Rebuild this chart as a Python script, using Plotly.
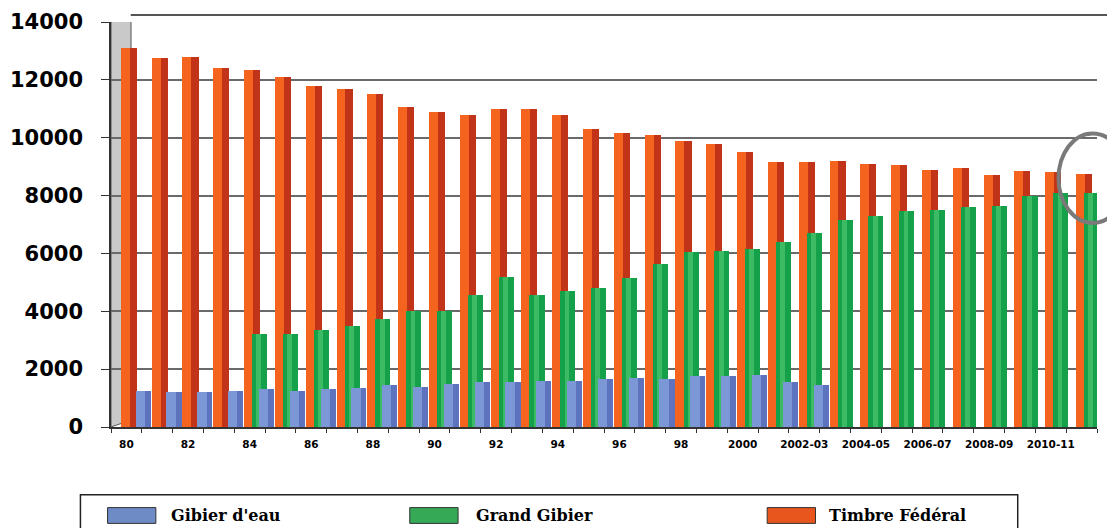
import plotly.graph_objects as go

categories = ["80", "81", "82", "83", "84", "85", "86", "87", "88", "89",
              "90", "91", "92", "93", "94", "95", "96", "97", "98", "99",
              "2000", "2001-02", "2002-03", "2003-04", "2004-05", "2005-06",
              "2006-07", "2007-08", "2008-09", "2009-10", "2010-11", "2011-12"]

timbre_federal = [13100, 12750, 12800, 12400, 12350, 12100, 11800, 11700, 11500, 11050,
                  10900, 10800, 11000, 11000, 10800, 10300, 10150, 10100, 9900, 9800,
                  9500, 9150, 9150, 9200, 9100, 9050, 8900, 8950, 8700, 8850, 8800, 8750]

grand_gibier = [None, None, None, None, 3200, 3200, 3350, 3500, 3750, 4000,
                4000, 4550, 5200, 4550, 4700, 4800, 5150, 5650, 6050, 6100,
                6150, 6400, 6700, 7150, 7300, 7450, 7500, 7600, 7650, 8000, 8100, 8100]

gibier_eau = [1250, 1200, 1200, 1250, 1300, 1250, 1300, 1350, 1450, 1400,
              1500, 1550, 1550, 1600, 1600, 1650, 1700, 1650, 1750, 1750,
              1800, 1550, 1450, None, None, None, None, None, None, None, None, None]

y_ticks = [0, 2000, 4000, 6000, 8000, 10000, 12000, 14000]
y_tick_text = ["0", "2000", "4000", "6000", "8000", "10000", "12000", "14000"]

series_names = ["Gibier d'eau", "Grand Gibier", "Timbre Fédéral"]
legend_colors = {"Gibier d'eau": "#6E8BC6", "Grand Gibier": "#36A957", "Timbre Fédéral": "#E8561E"}

xs = list(range(len(categories)))
tick_idx = xs[::2]
tick_txt = [categories[i] for i in tick_idx]

fig = go.Figure()

# Timbre Fédéral: dark side + bright front
fig.add_trace(go.Bar(x=xs, y=timbre_federal, offset=-0.18, width=0.52,
                     marker=dict(color="#C2341A", line=dict(width=0)), showlegend=False))
fig.add_trace(go.Bar(x=xs, y=timbre_federal, offset=-0.18, width=0.29,
                     marker=dict(color="#F4641F", line=dict(width=0)), showlegend=False,
                     name="Timbre Fédéral"))
# Grand Gibier
fig.add_trace(go.Bar(x=xs, y=grand_gibier, offset=0.08, width=0.49,
                     marker=dict(color="#15A04A", line=dict(width=0)), showlegend=False))
fig.add_trace(go.Bar(x=xs, y=grand_gibier, offset=0.22, width=0.16,
                     marker=dict(color="#3DBA64", line=dict(width=0)), showlegend=False,
                     name="Grand Gibier"))
# Gibier d'eau
fig.add_trace(go.Bar(x=xs, y=gibier_eau, offset=0.30, width=0.49,
                     marker=dict(color="#5E73BE", line=dict(width=0)), showlegend=False))
fig.add_trace(go.Bar(x=xs, y=gibier_eau, offset=0.30, width=0.30,
                     marker=dict(color="#7C97D6", line=dict(width=0)), showlegend=False,
                     name="Gibier d'eau"))

shapes = []
annotations = []

# left 3D wall
shapes.append(dict(type="path", xref="x", yref="y", layer="below",
                   path="M -0.5,0 L -0.5,14000 L 0.15,14240 L 0.15,240 Z",
                   fillcolor="#C9C9C9", line=dict(color="#555555", width=1)))
# back top border
shapes.append(dict(type="line", xref="paper", yref="paper", x0=0.02, x1=1.02, y0=1.017, y1=1.017,
                   line=dict(color="#555555", width=2)))
# highlight ellipse
shapes.append(dict(type="circle", xref="paper", yref="paper",
                   x0=0.961, x1=1.03, y0=0.504, y1=0.725,
                   line=dict(color="#7A7A7A", width=4)))

# custom legend
shapes.append(dict(type="rect", xref="paper", yref="paper",
                   x0=-0.031, x1=0.9196, y0=-0.3, y1=-0.167,
                   line=dict(color="#222222", width=1.5), fillcolor="rgba(0,0,0,0)"))
sw_x = [-0.0035, 0.303, 0.6655]
tx_x = [0.059, 0.368, 0.726]
for name, sx, tx in zip(series_names, sw_x, tx_x):
    shapes.append(dict(type="rect", xref="paper", yref="paper",
                       x0=sx, x1=sx + 0.049, y0=-0.238, y1=-0.199,
                       fillcolor=legend_colors[name], line=dict(color="#333333", width=1)))
    annotations.append(dict(xref="paper", yref="paper", x=tx, y=-0.219, xanchor="left",
                            yanchor="middle", text=name, showarrow=False,
                            font=dict(family="DejaVu Serif", size=16, color="black", weight="bold")))

fig.update_layout(
    width=1107, height=528,
    margin=dict(l=108, r=10, t=20, b=101),
    paper_bgcolor="white", plot_bgcolor="white",
    barmode="overlay",
    bargap=0,
    showlegend=False,
    shapes=shapes,
    annotations=annotations,
    xaxis=dict(range=[-0.5, 31.5], tickmode="array", tickvals=tick_idx, ticktext=tick_txt,
               ticks="", showgrid=False, zeroline=False,
               showline=True, linecolor="#333333", linewidth=1.5,
               ticklabelstandoff=7,
               tickfont=dict(family="DejaVu Sans", size=10.5, color="black", weight="bold"),
               minor=dict(ticks="outside", tick0=0.5, dtick=1, ticklen=4,
                          tickcolor="#333333", showgrid=False)),
    yaxis=dict(range=[0, 14000], tickmode="array", tickvals=y_ticks, ticktext=y_tick_text,
               ticks="outside", ticklen=8, tickcolor="#333333",
               showgrid=True, gridcolor="#6A6A6A", gridwidth=2,
               zeroline=False, showline=True, linecolor="#333333", linewidth=1.5,
               ticklabelstandoff=14,
               tickfont=dict(family="DejaVu Sans", size=21, color="black", weight="bold")),
)

fig.write_html("out.html", config={"displayModeBar": False},
               post_script="document.body.style.margin='0px';")
